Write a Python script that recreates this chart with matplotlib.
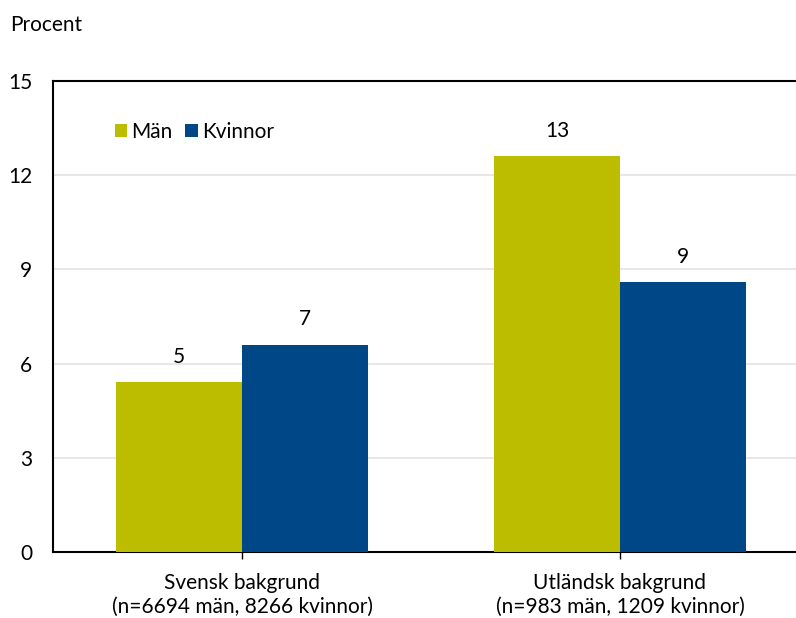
import numpy as np
from matplotlib import pyplot as plt

# data
groups = ['Svensk bakgrund\n(n=6694 män, 8266 kvinnor)',
          'Utländsk bakgrund\n(n=983 män, 1209 kvinnor)']
man = [5.4, 12.6]
kvinnor = [6.6, 8.6]
yticks = [0, 3, 6, 9, 12, 15]

plt.rcParams['font.family'] = ['Lato', 'DejaVu Sans']
plt.rcParams['font.size'] = 15

fig = plt.figure(figsize=(7.96, 6.18), dpi=100)
ax = fig.add_axes([0.0666, 0.1068, 0.9497, 0.7621])

x = np.arange(len(groups))
w = 1 / 3
b1 = ax.bar(x - w / 2, man, w, color='#bdbd00', label='Män', zorder=3)
b2 = ax.bar(x + w / 2, kvinnor, w, color='#004787', label='Kvinnor', zorder=3)
ax.bar_label(b1, fmt='%.0f', padding=11)
ax.bar_label(b2, fmt='%.0f', padding=11)

ax.set_xlim(-0.5, 1.5)
ax.set_ylim(0, 15)
ax.set_yticks(yticks)
ax.yaxis.grid(True, color='#e3e3e3', linewidth=1.2, zorder=0)
ax.tick_params(axis='y', length=0, pad=15)
ax.set_xticks(x)
ax.set_xticklabels(groups, linespacing=1.25)
ax.tick_params(axis='x', length=5, width=1, pad=10)
for s in ax.spines.values():
    s.set_linewidth(1.5)

ax.legend(loc='upper left', bbox_to_anchor=(0.068, 0.935), frameon=False,
          ncol=2, handlelength=0.6, handleheight=0.6, handletextpad=0.2,
          columnspacing=0.6, borderpad=0, fontsize=15)

fig.text(10 / 796, 1 - 25 / 618, 'Procent', va='center', ha='left')

plt.savefig('out.png', dpi=100)
